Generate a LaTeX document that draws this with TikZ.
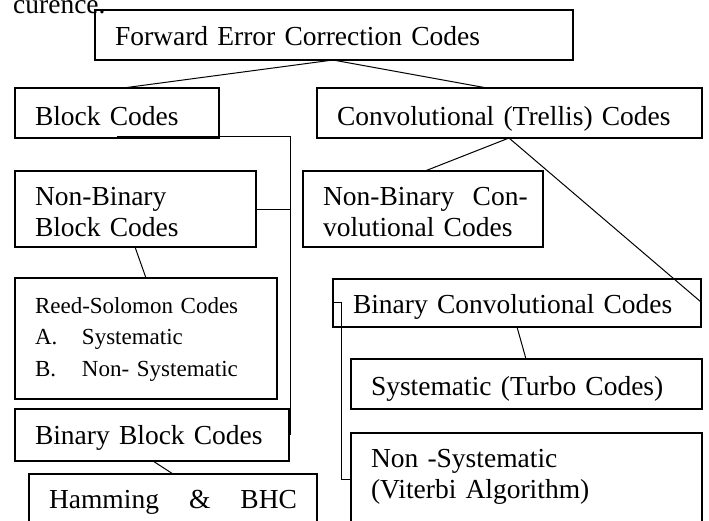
\documentclass[tikz,border=0pt]{standalone}
\usepackage{fontspec}
\setmainfont{Liberation Serif}
\usepackage{tikz}
\usetikzlibrary{calc}
\tikzset{box/.style={draw, line width=1.3pt, anchor=north west, outer sep=0pt, inner xsep=20pt, inner ysep=0pt, align=left, font=\fontsize{27.5}{31}\selectfont}}
\tikzset{link/.style={line width=1pt}}

\begin{document}
\begin{tikzpicture}[x=1pt,y=-1pt]
\useasboundingbox (0,0) rectangle (709,520);
\node[anchor=base west, inner sep=0pt, font=\fontsize{27.5}{31}\selectfont] (frag) at (13,13) {curence.};
% top levels
\node[box, text width=438pt, text height=35pt, text depth=15pt] (fec) at (95,10) {Forward Error Correction Codes};
\node[box, text width=164pt, text height=37pt, text depth=13pt] (block) at (15,88) {Block Codes};
\node[box, text width=345pt, text height=37pt, text depth=13pt] (conv) at (317,88) {Convolutional (Trellis) Codes};
% block codes side
\node[box, text width=201pt, text height=34pt, text depth=42pt] (nbblock) at (15,171) {Non-Binary\\Block Codes};
\node[box, text width=222pt, text height=35pt, text depth=86pt, font=\fontsize{23}{31.5}\selectfont] (rs) at (15,278) {Reed-Solomon Codes\\\makebox[47pt][l]{A.}Systematic\\\makebox[47pt][l]{B.}Non- Systematic};
\node[box, text width=234pt, text height=35pt, text depth=17pt] (binblk) at (15,409) {Binary Block Codes};
\node[box, text width=248pt, text height=34pt, text depth=70pt] (hamming) at (29,474) {\makebox[248pt][s]{Hamming\hfill\&\hfill BHC}};
% convolutional side
\node[box, text width=200pt, text height=34pt, text depth=42pt] (nbconv) at (303,171) {\mbox{Non-Binary\ \ Con-}\\volutional Codes};
\node[box, text width=328pt, text height=34pt, text depth=14pt] (binconv) at (333,279) {Binary Convolutional Codes};
\node[box, text width=311pt, text height=36pt, text depth=14pt] (sys) at (351,359) {Systematic (Turbo Codes)};
\node[box, text width=311pt, text height=34pt, text depth=70pt] (nonsys) at (351,433) {Non -Systematic\\(Viterbi Algorithm)};

\coordinate (fecfoot) at ($(fec.south west)+(238,0)$);
\coordinate (convfoot) at ($(conv.south west)+(192,0)$);
\draw[link] (fecfoot) -- ($(block.north west)+(108,0)$);
\draw[link] (fecfoot) -- ($(conv.north west)+(170,0)$);
\draw[link] ($(block.south west)+(102,0)$) -- ++(0,-2) -| ($(binblk.north east)+(1,26)$);
\draw[link] (nbblock.east) -- ++(34,0);
\draw[link] ($(nbblock.south west)+(120,0)$) -- ($(rs.north west)+(131,0)$);
\draw[link] ($(binblk.south west)+(138,0)$) -- ($(hamming.north west)+(144,0)$);
\draw[link] (convfoot) -- ($(nbconv.north west)+(122,0)$);
\draw[link] (convfoot) -- ($(binconv.north east)+(0,23)$);
\draw[link] ($(binconv.north west)+(0,23)$) -- ++(8,0) |- ($(nonsys.north west)+(0,46)$);
\draw[link] ($(binconv.south west)+(184,0)$) -- ($(sys.north west)+(175,0)$);
\end{tikzpicture}
\end{document}
